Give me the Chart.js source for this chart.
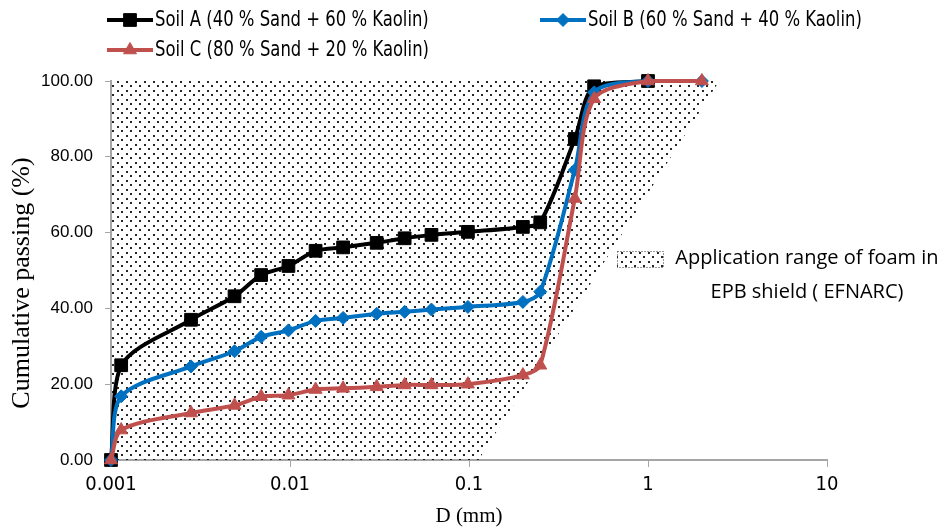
<!DOCTYPE html>
<html>
<head>
<meta charset="utf-8">
<script src="https://cdn.jsdelivr.net/npm/chart.js@4.4.1/dist/chart.umd.min.js"></script>
<style>
  body { margin: 0; background: #fff; }
</style>
</head>
<body>
<canvas id="myCanvas" width="944" height="531"></canvas>
<script>
// particle size D (mm), same sieve / hydrometer points for the three soils
const sizes = [0.001, 0.00114, 0.0028, 0.0049, 0.0069, 0.0098, 0.0139, 0.0198, 0.0305, 0.0437, 0.0617, 0.0986, 0.2, 0.25, 0.39, 0.5, 1, 2];

// cumulative passing (%)
const soilA = [0, 25.0, 37.0, 43.2, 48.8, 51.2, 55.2, 56.1, 57.3, 58.5, 59.4, 60.2, 61.5, 62.7, 84.7, 98.6, 100];
const soilB = [0, 16.8, 24.7, 28.7, 32.5, 34.2, 36.7, 37.5, 38.6, 39.1, 39.7, 40.4, 41.7, 44.4, 76.5, 97.0, 100, 100];
const soilC = [0, 7.9, 12.4, 14.4, 16.7, 17.1, 18.6, 18.9, 19.3, 19.8, 19.8, 20.0, 22.4, 25.0, 69.0, 95.3, 100, 100];

const soilLabels = [
  'Soil A (40 % Sand + 60 % Kaolin)',
  'Soil B (60 % Sand + 40 % Kaolin)',
  'Soil C (80 % Sand + 20 % Kaolin)'
];

// lower boundary of the EFNARC range (filled up to 100 %)
const rangeD = [0.001, 0.113, 2.5];
const rangePassing = [0, 0, 100];
const rangeLabel = ['Application range of foam in', 'EPB shield ( EFNARC)'];

const xTicks = [0.001, 0.01, 0.1, 1, 10];
const xTickLabels = ['0.001', '0.01', '0.1', '1', '10'];
const yTicks = [0, 20, 40, 60, 80, 100];

const narrow = "'Liberation Sans Narrow', 'Arial Narrow', 'DejaVu Sans Condensed', sans-serif";
const serif = "'Liberation Serif', 'Times New Roman', serif";
const axisGrey = '#a6a6a6';

function dotPattern(ctx) {
  const c = document.createElement('canvas');
  c.width = 9; c.height = 9;
  const g = c.getContext('2d');
  g.fillStyle = 'rgba(0,0,0,0.85)';
  g.fillRect(0, 0, 2, 2);
  g.fillRect(4, 4, 2, 2);
  return ctx.createPattern(c, 'repeat');
}

function points(ys) {
  return ys.map((y, i) => ({ x: sizes[i], y: y }));
}

const ctx = document.getElementById('myCanvas').getContext('2d');
const dots = dotPattern(ctx);

const styles = [
  { color: '#000000', pointStyle: 'rect', radius: 9 },
  { color: '#0070C0', pointStyle: 'rectRot', radius: 6.5 },
  { color: '#C0504D', pointStyle: 'triangle', radius: 7.5 }
];

// legend, y title and the range note are drawn by hand
const overlay = {
  id: 'overlay',
  afterDraw(chart) {
    const c = chart.ctx;
    c.save();
    const legendPos = [[107, 20], [540, 20], [107, 50]];
    soilLabels.forEach((label, i) => {
      const [x, y] = legendPos[i];
      const s = styles[i];
      c.strokeStyle = s.color;
      c.fillStyle = s.color;
      c.lineWidth = 4;
      c.beginPath();
      c.moveTo(x, y);
      c.lineTo(x + 46, y);
      c.stroke();
      c.lineWidth = 1;
      Chart.helpers.drawPoint(c, { pointStyle: s.pointStyle, radius: s.radius, borderWidth: 1, rotation: 0 }, x + 23, y);
      // condensed text like the original
      c.save();
      c.translate(x + 48, y + 1);
      c.scale(0.87, 1);
      c.fillStyle = '#000';
      c.font = '21px ' + narrow;
      c.textAlign = 'left';
      c.textBaseline = 'middle';
      c.fillText(label, 0, 0);
      c.restore();
    });

    // y axis title
    c.save();
    c.translate(29, 283);
    c.rotate(-Math.PI / 2);
    c.font = '26px ' + serif;
    c.textAlign = 'center';
    c.textBaseline = 'alphabetic';
    c.fillStyle = '#000';
    c.fillText('Cumulative passing (%)', 0, 0);
    c.restore();

    // range note
    c.fillStyle = dots;
    c.fillRect(617, 251, 46, 16);
    c.strokeStyle = '#333';
    c.lineWidth = 1;
    c.setLineDash([1, 2]);
    c.strokeRect(617.5, 251.5, 46, 16);
    c.setLineDash([]);
    c.fillStyle = '#000';
    c.font = '20px "Open Sans", sans-serif';
    c.textAlign = 'center';
    c.textBaseline = 'alphabetic';
    c.fillText(rangeLabel[0], 807, 264);
    c.fillText(rangeLabel[1], 807, 298);
    c.restore();
  }
};

new Chart(ctx, {
  type: 'line',
  data: {
    datasets: [
      {
        label: soilLabels[0], data: points(soilA),
        borderColor: styles[0].color, backgroundColor: styles[0].color,
        pointStyle: 'rect', pointRadius: styles[0].radius, order: 3, clip: false
      },
      {
        label: soilLabels[1], data: points(soilB),
        borderColor: styles[1].color, backgroundColor: styles[1].color,
        pointStyle: 'rectRot', pointRadius: styles[1].radius, order: 2, clip: false
      },
      {
        label: soilLabels[2], data: points(soilC),
        borderColor: styles[2].color, backgroundColor: styles[2].color,
        pointStyle: 'triangle', pointRadius: styles[2].radius, order: 1, clip: false
      },
      {
        label: 'EFNARC', data: rangeD.map((d, i) => ({ x: d, y: rangePassing[i] })),
        fill: 'end', backgroundColor: dots, borderWidth: 0, pointRadius: 0, tension: 0, order: 5
      }
    ]
  },
  options: {
    responsive: false,
    animation: false,
    layout: { padding: { top: 81, right: 117, left: 0, bottom: 0 } },
    elements: {
      line: { borderWidth: 4, tension: 0.3 },
      point: { borderWidth: 1, hoverRadius: 7 }
    },
    plugins: { legend: { display: false }, tooltip: { enabled: false } },
    scales: {
      x: {
        type: 'logarithmic', min: 0.001, max: 10,
        afterBuildTicks: s => { s.ticks = xTicks.map(v => ({ value: v })); },
        afterFit: s => { s.height = 71; },
        ticks: {
          callback: (v, i) => xTickLabels[i],
          font: { family: narrow, size: 20 }, color: '#000',
          padding: 6, maxRotation: 0, autoSkip: false
        },
        grid: { drawOnChartArea: false, tickLength: 7, color: axisGrey },
        border: { color: axisGrey, width: 2 },
        title: {
          display: true, text: 'D (mm)', color: '#000',
          font: { family: serif, size: 21 }, padding: { top: 0, bottom: 2 }
        }
      },
      y: {
        min: 0, max: 100,
        afterBuildTicks: s => { s.ticks = yTicks.map(v => ({ value: v })); },
        afterFit: s => { s.width = 111; },
        ticks: {
          callback: v => v.toFixed(2),
          font: { family: "'Liberation Sans', Arial, sans-serif", size: 17 }, color: '#000',
          padding: 12
        },
        grid: { drawOnChartArea: false, tickLength: 6, color: axisGrey },
        border: { color: axisGrey, width: 2 }
      }
    }
  },
  plugins: [overlay]
});
</script>
</body>
</html>
